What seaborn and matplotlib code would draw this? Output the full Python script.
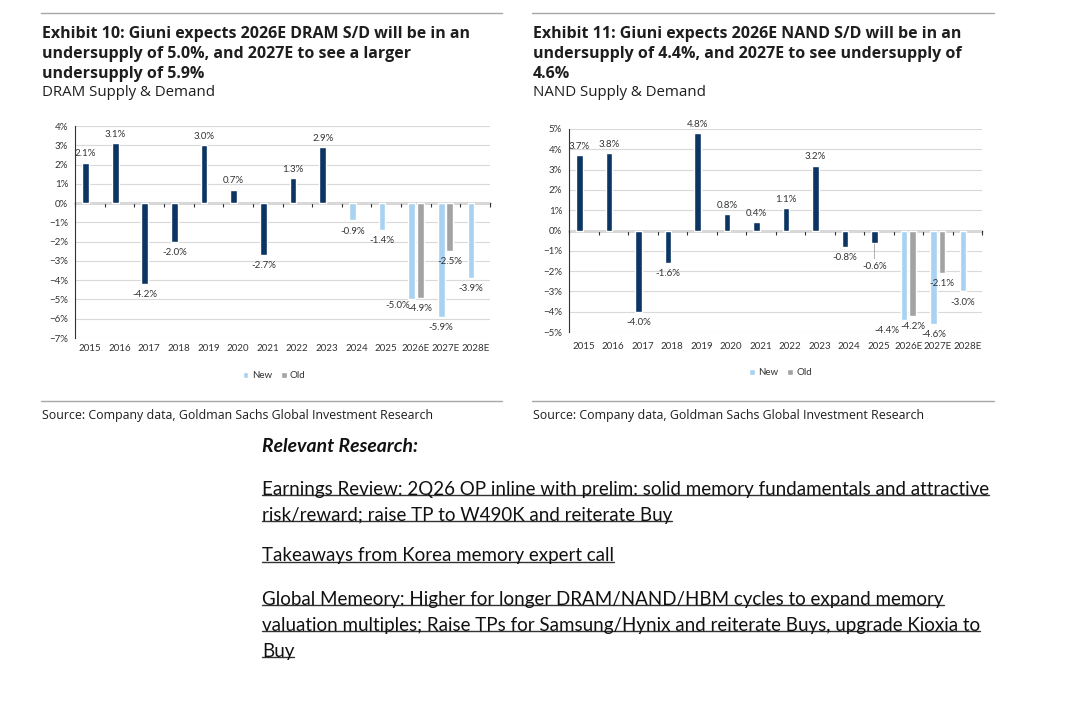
import numpy as np
import pandas as pd
import seaborn as sns
import matplotlib.pyplot as plt
from matplotlib.lines import Line2D
from matplotlib.ticker import StrMethodFormatter

years = ['2015', '2016', '2017', '2018', '2019', '2020', '2021', '2022', '2023',
         '2024', '2025', '2026E', '2027E', '2028E']

dram_new = [2.1, 3.1, -4.2, -2.0, 3.0, 0.7, -2.7, 1.3, 2.9, -0.9, -1.4, -5.0, -5.9, -3.9]
dram_old = [np.nan] * 11 + [-4.9, -2.5, np.nan]
dram_actual_years = 9      # 2015-2023 drawn as actuals

nand_new = [3.7, 3.8, -4.0, -1.6, 4.8, 0.8, 0.4, 1.1, 3.2, -0.8, -0.6, -4.4, -4.6, -3.0]
nand_old = [np.nan] * 11 + [-4.2, -2.1, np.nan]
nand_actual_years = 11     # 2015-2025 drawn as actuals

dram_title = ['Exhibit 10: Giuni expects 2026E DRAM S/D will be in an',
              'undersupply of 5.0%, and 2027E to see a larger',
              'undersupply of 5.9%']
nand_title = ['Exhibit 11: Giuni expects 2026E NAND S/D will be in an',
              'undersupply of 4.4%, and 2027E to see undersupply of',
              '4.6%']
source = 'Source: Company data, Goldman Sachs Global Investment Research'
research = ['Earnings Review: 2Q26 OP inline with prelim: solid memory fundamentals and attractive',
            'risk/reward; raise TP to W490K and reiterate Buy',
            'Takeaways from Korea memory expert call',
            'Global Memeory: Higher for longer DRAM/NAND/HBM cycles to expand memory',
            'valuation multiples; Raise TPs for Samsung/Hynix and reiterate Buys, upgrade Kioxia to',
            'Buy']

NAVY = '#0c3563'
LIGHT = '#a9d1f1'
GREY = '#a3a3a3'
AXIS = '#333333'
TXT = '#1e1e1e'

sns.set_style('white')
plt.rcParams['font.family'] = ['Lato', 'DejaVu Sans']

W, H = 1071, 728
fig = plt.figure(figsize=(W / 100, H / 100), dpi=100)


def px_box(x0, y0, x1, y1):
    # pixel box (top-left origin) -> figure fraction rect
    return [x0 / W, 1 - y1 / H, (x1 - x0) / W, (y1 - y0) / H]


def draw_panel(ax, new, old, n_actual, lo, hi, nudge, leader, legend_xy, xpad):
    df = pd.DataFrame({'year': years * 2,
                       'series': ['New'] * len(years) + ['Old'] * len(years),
                       'value': list(new) + list(old)}).dropna()
    sns.barplot(data=df, x='year', y='value', hue='series', order=years,
                hue_order=['New', 'Old'], palette={'New': LIGHT, 'Old': GREY},
                width=0.58, gap=0.22, saturation=1, errorbar=None, ax=ax)

    # history bars are navy
    for bar in ax.containers[0]:
        i = int(round(bar.get_x() + bar.get_width() / 2))
        if i < n_actual:
            bar.set_facecolor(NAVY)

    # value labels
    for cont, name in zip(ax.containers, ['New', 'Old']):
        for bar in cont:
            x = bar.get_x() + bar.get_width() / 2
            h = bar.get_height()
            yr = years[int(round(x))]
            dx, dy = nudge.get((name, yr), (0, 0))
            base = 3.0 if h >= 0 else -4.4
            arrow = None
            if (name, yr) in leader:
                arrow = dict(arrowstyle='-', color=GREY, lw=0.6, shrinkA=0, shrinkB=1)
            ax.annotate(f'{h:.1f}%', (x, h), xytext=(dx, base + dy),
                        textcoords='offset points', ha='center',
                        va='bottom' if h >= 0 else 'top',
                        fontsize=7, color=AXIS, arrowprops=arrow)

    ax.set_xlim(-0.5, len(years) - 0.5)
    ax.set_ylim(lo, hi)
    ax.set_yticks(range(lo, hi + 1))
    ax.yaxis.set_major_formatter(StrMethodFormatter('{x:.0f}%'))
    ax.set_xlabel('')
    ax.set_ylabel('')
    ax.grid(axis='y', color='#d9d9d9', lw=0.8)
    ax.set_axisbelow(True)
    for s in ['top', 'right', 'bottom']:
        ax.spines[s].set_visible(False)
    ax.spines['left'].set_color(AXIS)
    ax.spines['left'].set_linewidth(0.8)
    ax.tick_params(axis='y', length=2.5, width=0.8, color=AXIS, labelsize=7,
                   labelcolor=AXIS, pad=2.5)
    ax.tick_params(axis='x', length=0, labelsize=7, labelcolor=AXIS, pad=xpad)

    # zero line with category-border tick marks
    sec = ax.secondary_xaxis((0 - lo) / (hi - lo))
    sec.set_alignment('bottom')
    sec.set_xticks(np.arange(-0.5, len(years), 1))
    sec.tick_params(direction='out', length=3, width=0.8, color=AXIS,
                    labelbottom=False, labeltop=False)
    for sp in sec.spines.values():
        sp.set_color(AXIS)
        sp.set_linewidth(1.0)

    sns.move_legend(ax, 'center', bbox_to_anchor=legend_xy, ncol=2, frameon=False,
                    title=None, fontsize=7, handlelength=0.6, handleheight=0.6,
                    handletextpad=0.35, columnspacing=0.9, labelcolor=AXIS)


ax1 = fig.add_axes(px_box(75, 126, 490, 338))
draw_panel(ax1, dram_new, dram_old, dram_actual_years, -7, 4,
           nudge={('New', '2026E'): (-10, 3.5)}, leader=(),
           legend_xy=(0.48, -0.178), xpad=4.5)

ax2 = fig.add_axes(px_box(569, 129, 982, 332))
draw_panel(ax2, nand_new, nand_old, nand_actual_years, -5, 5,
           nudge={('New', '2026E'): (-12.5, 0), ('New', '2025'): (0, -9.5)},
           leader=(('New', '2025'),),
           legend_xy=(0.513, -0.20), xpad=7.5)

# ---- page text ----
head = ['Open Sans', 'DejaVu Sans']
groups = {'title': [], 'sub': [], 'src': []}
for x0, lines, sub in [(42, dram_title, 'DRAM Supply & Demand'),
                       (533, nand_title, 'NAND Supply & Demand')]:
    for k, line in enumerate(lines):
        groups['title'].append(fig.text(x0 / W, 1 - (34.5 + 20 * k) / H, line, family=head,
                                        weight='bold', fontsize=11, color=TXT,
                                        va='center', ha='left'))
    groups['sub'].append(fig.text(x0 / W, 1 - 92.5 / H, sub, family=head, fontsize=10.5,
                                  color=TXT, va='center', ha='left'))
    groups['src'].append(fig.text(x0 / W, 1 - 415 / H, source, family=head, fontsize=8.5,
                                  color=TXT, va='center', ha='left'))

for x0, x1 in [(41, 502), (532, 994)]:
    for yy in (12.5, 400.5):
        fig.add_artist(Line2D([x0 / W, x1 / W], [1 - yy / H] * 2,
                              transform=fig.transFigure, color='#a6a6a6', lw=1.0))

body = ['Lato', 'DejaVu Sans']
heading = fig.text(262 / W, 1 - 447 / H, 'Relevant Research:', family=body, weight='bold',
                   style='italic', fontsize=15, color='#111111', va='center', ha='left')

research_y = [489, 515, 556, 599, 625, 651]
links = []
for line, yy in zip(research, research_y):
    links.append(fig.text(262 / W, 1 - yy / H, line, family=body, fontsize=14,
                          color='#111111', va='center', ha='left'))

# scale each text group so its widest reference line matches the picture's width
fig.canvas.draw()
r = fig.canvas.get_renderer()
for texts, ref, target in [(groups['title'], groups['title'][0], 428),
                           (groups['sub'], groups['sub'][0], 174),
                           (groups['src'], groups['src'][0], 391),
                           ([heading], heading, 156),
                           (links, links[0], 727)]:
    k = target / ref.get_window_extent(renderer=r).width
    for t in texts:
        t.set_fontsize(t.get_fontsize() * k)

# underline each link line
fig.canvas.draw()
for t in links:
    bb = t.get_window_extent(renderer=r)
    yline = (bb.y0 + 2.5) / H
    fig.add_artist(Line2D([bb.x0 / W, bb.x1 / W], [yline, yline],
                          transform=fig.transFigure, color='#333333', lw=1.0))

fig.savefig('out.png', dpi=100)
